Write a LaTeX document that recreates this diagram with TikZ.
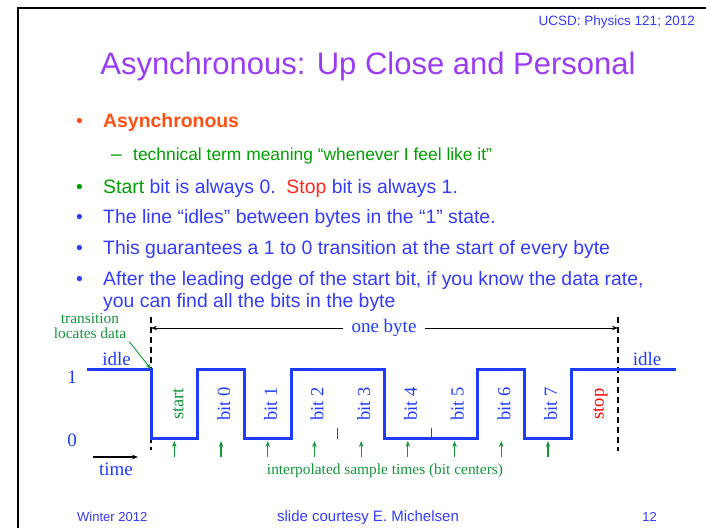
\documentclass[tikz,border=0pt]{standalone}
\usepackage{fontspec}
\setmainfont{Liberation Serif}
\setsansfont{Liberation Sans}
\usetikzlibrary{arrows.meta}
\definecolor{titlepurple}{RGB}{155,60,245}
\definecolor{slideblue}{RGB}{50,60,250}
\definecolor{slideorange}{RGB}{255,80,20}
\definecolor{slidegreen}{RGB}{0,160,0}
\definecolor{slidered}{RGB}{255,40,30}
\definecolor{sigblue}{RGB}{30,60,255}
\definecolor{sigreen}{RGB}{20,150,60}
\begin{document}
\begin{tikzpicture}[x=1pt, y=-1pt, >={Stealth[length=6pt,width=4.5pt]},
    slide/.style={font=\sffamily\fontsize{19.4}{23}\selectfont, text=slideblue, anchor=base west, inner sep=0pt},
    lbl/.style={font=\fontsize{19}{22}\selectfont, text=sigblue, inner sep=0pt, anchor=base},
    bitlbl/.style={rotate=90, font=\fontsize{18.5}{20}\selectfont, inner sep=0pt, anchor=base},
    bytedash/.style={line width=1.6pt, dash pattern=on 6pt off 4pt},
    sig/.style={sigblue, line width=3pt}]
    \useasboundingbox (0,0) rectangle (706,528);
    \draw[line width=2pt] (17.5,528) -- (17.5,7.5) -- (706,7.5);

    \node[anchor=base east, inner sep=0pt, font=\sffamily\fontsize{13.5}{15}\selectfont, text=slideblue] (hdr) at (695,25) {UCSD: Physics 121; 2012};
    \node[anchor=base, inner sep=0pt, font=\sffamily\fontsize{31}{36}\selectfont, text=titlepurple] (title) at (368,74) {Asynchronous: Up Close and Personal};

    \node[slide, text=slideorange] (d1) at (76,127) {•};
    \node[slide, text=slideorange, font=\sffamily\bfseries\fontsize{19.4}{23}\selectfont] (l1) at (103,127) {Asynchronous};
    \node[slide, text=slidegreen] (d2) at (111,160) {–};
    \node[slide, text=slidegreen, font=\sffamily\fontsize{17.4}{21}\selectfont] (l2) at (133,160) {technical term meaning “whenever I feel like it”};
    \node[slide, text=slidegreen] (d3) at (76,193) {•};
    \node[slide] (l3) at (103,193) {\textcolor{slidegreen}{Start} bit is always 0.\ \ \textcolor{slidered}{Stop} bit is always 1.};
    \node[slide] (d4) at (76,223) {•};
    \node[slide] (l4) at (103,223) {The line “idles” between bytes in the “1” state.};
    \node[slide] (d5) at (76,254) {•};
    \node[slide] (l5) at (103,254) {This guarantees a 1 to 0 transition at the start of every byte};
    \node[slide] (d6) at (76,285) {•};
    \node[slide] (l6) at (103,285) {After the leading edge of the start bit, if you know the data rate,};
    \node[slide] (l7) at (103,307) {you can find all the bits in the byte};

    \coordinate (lt) at (151,317); \coordinate (lb) at (151,450);
    \coordinate (rt) at (618,317); \coordinate (rb) at (618,451);
    \draw[bytedash] (lt) -- (lb);
    \draw[bytedash] (rt) -- (rb);
    \coordinate (la) at (151,328); \coordinate (ra) at (618,328);
    \node[lbl, anchor=center, inner xsep=8pt] (byte) at (384,328) {one byte};
    \draw[->, line width=0.9pt] (byte) -- (la);
    \draw[->, line width=0.9pt] (byte) -- (ra);

    \coordinate (edge) at (151,369);
    \draw[sig] (87,369) -- (edge) -- (151,438) -- (197.7,438) -- (197.7,369) -- (244.4,369)
        -- (244.4,438) -- (291.1,438) -- (291.1,369) -- (384.5,369) -- (384.5,438)
        -- (477.9,438) -- (477.9,369) -- (524.6,369) -- (524.6,438) -- (571.3,438)
        -- (571.3,369) -- (676,369);
    \draw[sigblue, line width=0.8pt] (337.8,428) -- (337.8,439);
    \draw[sigblue, line width=0.8pt] (431.2,428) -- (431.2,438);

    \foreach \t/\c [count=\k from 0] in {start/sigreen, bit 0/sigblue, bit 1/sigblue, bit 2/sigblue,
        bit 3/sigblue, bit 4/sigblue, bit 5/sigblue, bit 6/sigblue, bit 7/sigblue, stop/red}
        \node[bitlbl, text=\c] (bit\k) at (183.35+46.7*\k,404) {\t};
    \foreach \k in {0,...,8} {
        \coordinate (s\k) at (174.35+46.7*\k,457);
        \draw[->, sigreen, line width=1.2pt] (s\k) -- ++(0,-16);
    }

    \node[align=center, anchor=north, inner sep=0pt, font=\fontsize{15.4}{15}\selectfont, text=sigreen] (trans) at (90,313) {transition\\locates data};
    \draw[->, sigreen, line width=0.9pt] ([shift={(3,3)}]trans.south east) -- (edge);

    \node[lbl] (one) at (72,383) {1};
    \node[lbl] (zero) at (72,446) {0};
    \node[lbl] (idlel) at (116.5,365) {idle};
    \node[lbl] (idler) at (647,365) {idle};
    \coordinate (t0) at (93,457); \coordinate (t1) at (138,457);
    \draw[->, line width=1.2pt] (t0) -- (t1);
    \node[lbl] (time) at (116,475) {time};
    \node[lbl, text=sigreen, font=\fontsize{15.4}{18}\selectfont] (interp) at (385,474) {interpolated sample times (bit centers)};

    \node[anchor=base west, inner sep=0pt, font=\sffamily\fontsize{13}{15}\selectfont, text=slideblue] (ftl) at (77,521) {Winter 2012};
    \node[anchor=base, inner sep=0pt, font=\sffamily\fontsize{15}{17}\selectfont, text=slideblue] (ftc) at (368,521) {slide courtesy E. Michelsen};
    \node[anchor=base east, inner sep=0pt, font=\sffamily\fontsize{13}{15}\selectfont, text=slideblue] (ftr) at (657,521) {12};
\end{tikzpicture}
\end{document}
